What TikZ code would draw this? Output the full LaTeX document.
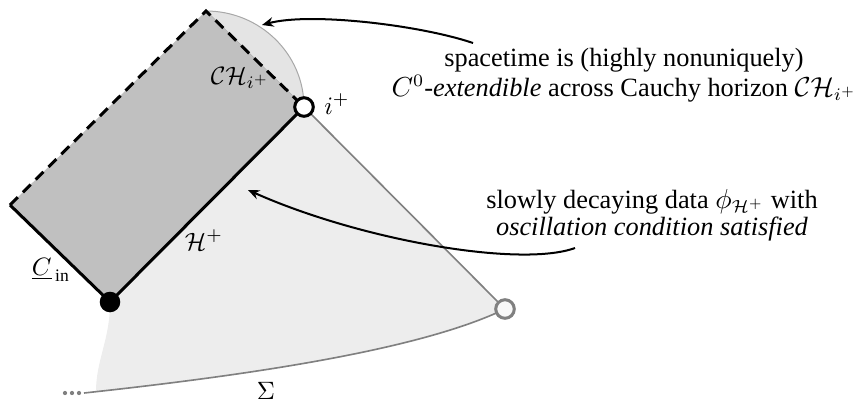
\documentclass[tikz,border=0pt]{standalone}
\usepackage{fontspec}
\setmainfont{Liberation Serif}
\usetikzlibrary{arrows.meta,positioning}
\definecolor{PdInk}{HTML}{000000}
\definecolor{PdDark}{HTML}{C0C0C0}
\definecolor{PdLight}{HTML}{EDEDED}
\definecolor{PdCap}{HTML}{E4E4E4}
\definecolor{PdRule}{HTML}{808080}
\definecolor{PdEdge}{HTML}{A8A8A8}
\definecolor{PdHole}{HTML}{F8F8F8}
\tikzset{
  pd/horizon/.style={draw=PdInk, line width=1.2pt, line join=miter},
  pd/cauchy/.style={pd/horizon, dash pattern=on 4.4pt off 2.8pt},
  pd/infinity/.style={draw=PdRule, line width=.65pt},
  pd/open/.style={
    circle, draw=PdInk, line width=1.2pt, fill=white,
    inner sep=0pt, minimum size=7.4pt
  },
  pd/far/.style={pd/open, draw=PdRule, fill=PdHole},
  pd/solid/.style={circle, fill=PdInk, inner sep=0pt, minimum size=8.2pt},
  pd/arrow/.style={
    -{Stealth[length=4.6pt,width=3.8pt]}, line width=.8pt, draw=PdInk
  },
  pd/label/.style={font=\normalsize, inner sep=0pt},
  pd/note/.style={font=\fontsize{10.5}{9.4}\selectfont, align=center, inner sep=0pt}
}
\begin{document}
\begin{tikzpicture}[x=0.014cm,y=-0.014cm]
  \useasboundingbox (0,0) rectangle (856,402);
  % corners of the diagram
  \coordinate (top) at (206,11);
  \coordinate (left) at (10,205);
  \coordinate (bif) at (110,302);
  \coordinate (iplus) at (304,107);
  \coordinate (spinf) at (505,309);
  \coordinate (sigl) at (84,393);
  % exterior region
  \fill[PdLight] (iplus) -- (spinf) .. controls (420,350) and (250,375) .. (96,391.5)
    .. controls (96,360) and (110,340) .. (bif) -- cycle;
  % extension beyond the Cauchy horizon
  \filldraw[fill=PdCap, draw=PdEdge, line width=.4pt]
    (top) .. controls (260,11) and (304,54) .. (iplus) -- cycle;
  \fill[PdDark] (bif) -- (iplus) -- (top) -- (left) -- cycle;
  \draw[pd/infinity] (iplus) -- (spinf);
  \draw[pd/infinity] (sigl) .. controls (250,375) and (420,350) .. (spinf);
  \foreach \x in {65,72,79}
    \fill[PdRule] (\x,393) circle[radius=.85pt];
  \draw[pd/cauchy] (left) -- (top) -- (iplus);
  \draw[pd/horizon] (left) -- (bif) -- (iplus);
  \node[pd/solid] (bifdot) at (bif) {};
  \node[pd/open] (iplusdot) at (iplus) {};
  \node[pd/far] (spinfdot) at (spinf) {};
  % labels
  \node[pd/label] (lblch) at (240,78) {$\mathcal{C}\mathcal{H}_{i^+}$};
  \node[pd/label] (lblip) at (337,104) {$i^+$};
  \node[pd/label] (lblh) at (204,240) {$\mathcal{H}^+$};
  \node[pd/label] (lblc) at (51,270) {$\underline{C}_{\,\mathrm{in}}$};
  \node[pd/label] (lbls) at (266,391) {$\Sigma$};
  % notes
  \node[pd/note] (extnote) at (624,75)
    {spacetime is (highly nonuniquely)\\
     $C^0$-\emph{extendible} across Cauchy horizon $\mathcal{C}\mathcal{H}_{i^+}$};
  \node[pd/note] (datanote) at (652,215)
    {slowly decaying data $\phi_{\mathcal{H}^+}$ with\\
     \emph{oscillation condition satisfied}};
  \coordinate (extfrom) at (473,43);
  \coordinate (extto) at (262,25);
  \coordinate (datafrom) at (575,248);
  \coordinate (datato) at (248,190);
  \draw[pd/arrow] (extfrom) .. controls (420,25) and (310,12) .. (extto);
  \draw[pd/arrow] (datafrom) .. controls (520,268) and (360,240) .. (datato);
\end{tikzpicture}
\end{document}
